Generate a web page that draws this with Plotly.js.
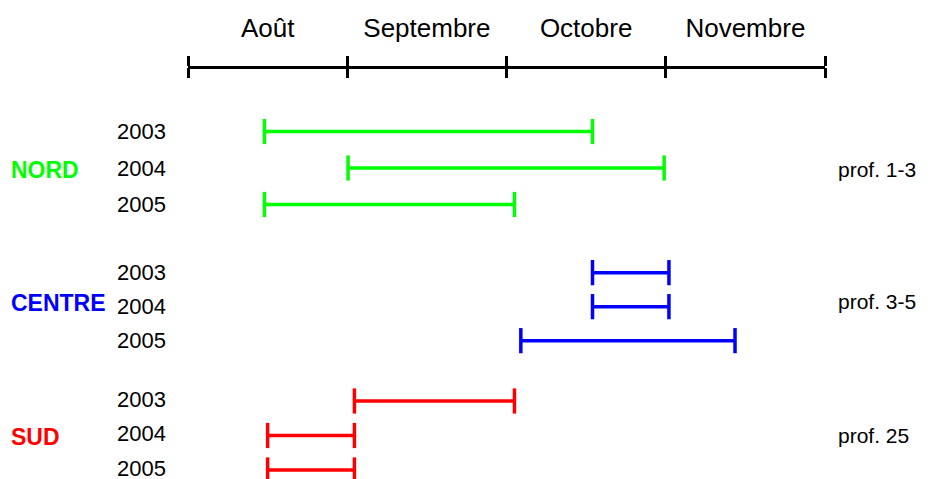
<!DOCTYPE html>
<html>
<head>
<meta charset="utf-8">
<script src="https://cdn.plot.ly/plotly-3.0.1.min.js"></script>
<style>
  body { margin: 0; background: #fff; }
  #chart { width: 931px; height: 479px; }
</style>
</head>
<body>
<div id="chart"></div>
<script>
// months on the top axis, x unit = one month from 1 August
var months = ['Août', 'Septembre', 'Octobre', 'Novembre'];
var years = ['2003', '2004', '2005'];
var regions = ['NORD', 'CENTRE', 'SUD'];
var depths = ['prof. 1-3', 'prof. 3-5', 'prof. 25'];
var colors = ['#00ff00', '#0000ff', '#ff0000'];

// period start / end for each year (2003, 2004, 2005)
var nordStart = [0.48, 1.005, 0.48];
var nordEnd = [2.54, 2.99, 2.05];
var centreStart = [2.54, 2.54, 2.09];
var centreEnd = [3.02, 3.02, 3.435];
var sudStart = [1.045, 0.50, 0.50];
var sudEnd = [2.05, 1.045, 1.045];

var starts = [nordStart, centreStart, sudStart];
var ends = [nordEnd, centreEnd, sudEnd];
var yaxes = ['y', 'y2', 'y3'];

var data = [];
regions.forEach(function (r, i) {
    var xs = [], ys = [];
    years.forEach(function (yr, j) {
        xs.push(starts[i][j], ends[i][j], null);
        ys.push(yr, yr, null);
    });
    data.push({
        x: xs,
        y: ys,
        xaxis: 'x',
        yaxis: yaxes[i],
        type: 'scatter',
        mode: 'lines+markers',
        cliponaxis: false,
        hoverinfo: 'skip',
        line: { color: colors[i], width: 3.5 },
        marker: { symbol: 'line-ns', size: 18, line: { color: colors[i], width: 3.5 } },
        showlegend: false,
    });
});

// invisible traces so the overlaid top axes (lower ticks, month labels) get drawn
['x2', 'x3'].forEach(function (xa) {
    data.push({
        x: [0, 4],
        y: [years[0], years[0]],
        xaxis: xa,
        yaxis: 'y',
        type: 'scatter',
        mode: 'markers',
        marker: { opacity: 0 },
        hoverinfo: 'skip',
        showlegend: false,
    });
});

var font = { family: 'Liberation Sans, Arial, sans-serif', color: '#000' };

function yAxis(domain, range, shift) {
    return {
        type: 'category',
        categoryorder: 'array',
        categoryarray: years,
        domain: domain,
        range: range,
        anchor: 'free',
        position: 0,
        showgrid: false,
        zeroline: false,
        showline: false,
        ticks: '',
        ticklabelstandoff: 22,
        ticklabelshift: shift,
        tickfont: { family: font.family, color: '#000', size: 22 },
        fixedrange: true,
    };
}

var labelY = [1.05, 0.9, 1.03];
var depthY = [1.05, 0.86, 1.0];
var annotations = [];
regions.forEach(function (r, i) {
    annotations.push({
        xref: 'paper', yref: yaxes[i], x: -0.281, y: labelY[i], xanchor: 'left', yanchor: 'middle',
        text: '<b>' + r + '</b>', showarrow: false,
        font: { family: font.family, size: 23, color: colors[i] },
    });
    annotations.push({
        xref: 'paper', yref: yaxes[i], x: 1.017, y: depthY[i], xanchor: 'left', yanchor: 'middle',
        text: depths[i], showarrow: false,
        font: { family: font.family, size: 21, color: '#000' },
    });
});

function topAxis(extra) {
    var ax = {
        range: [0, 4],
        side: 'top',
        anchor: 'free',
        position: 1,
        showline: false,
        showgrid: false,
        zeroline: false,
        fixedrange: true,
        showticklabels: false,
        tickcolor: '#000',
    };
    for (var k in extra) ax[k] = extra[k];
    return ax;
}

var layout = {
    width: 931,
    height: 479,
    margin: { l: 188, r: 106, t: 67, b: 0 },
    paper_bgcolor: '#fff',
    plot_bgcolor: '#fff',
    font: font,
    showlegend: false,
    xaxis: topAxis({
        showline: true, linewidth: 3, linecolor: '#000',
        ticks: 'outside', ticklen: 10, tickwidth: 3,
        tickvals: [0, 1, 2, 3, 4],
    }),
    // same line, ticks pointing downwards
    xaxis2: topAxis({
        overlaying: 'x',
        side: 'bottom',
        ticks: 'outside', ticklen: 10, tickwidth: 3,
        tickvals: [0, 1, 2, 3, 4],
    }),
    xaxis3: topAxis({
        overlaying: 'x',
        ticks: '',
        tickvals: [0.5, 1.5, 2.5, 3.5],
        ticktext: months,
        showticklabels: true,
        ticklabelstandoff: 25,
        tickfont: { family: font.family, size: 26, color: '#000' },
    }),
    yaxis: yAxis([0.622, 0.8877], [2.5, -0.5], 0),
    yaxis2: yAxis([0.2945, 0.5421], [2.5, -0.5], 0),
    yaxis3: yAxis([0, 0.2312], [2.261, -0.5], 2),
    annotations: annotations,
};

Plotly.newPlot(document.getElementById('chart'), data, layout, { displayModeBar: false, staticPlot: true });
</script>
</body>
</html>
